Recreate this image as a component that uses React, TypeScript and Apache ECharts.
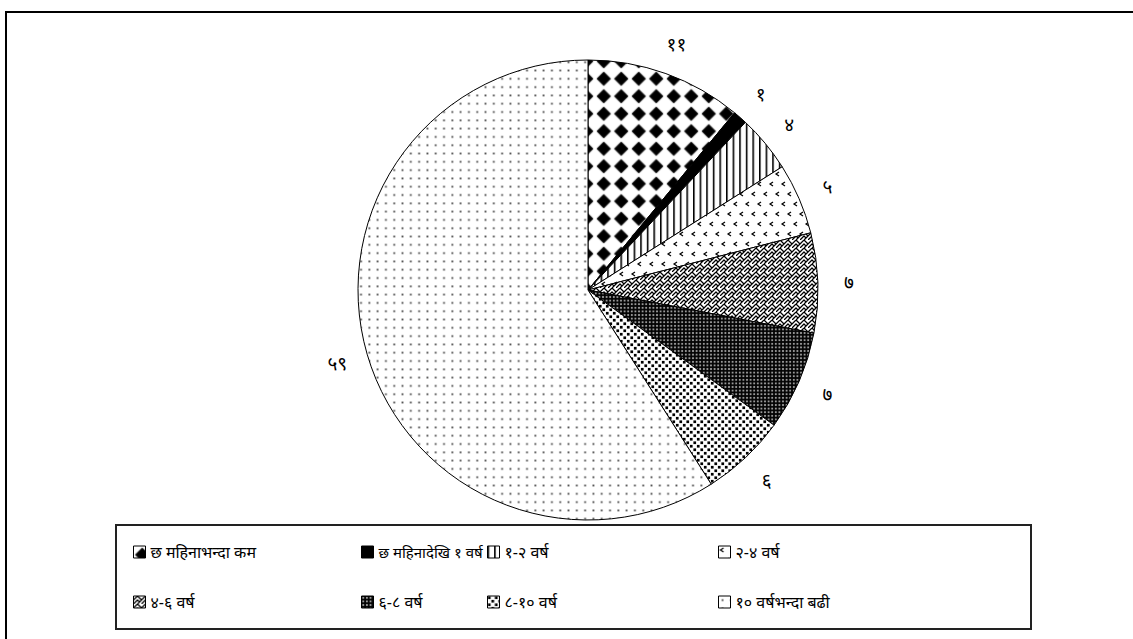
import React, { useEffect, useRef } from "react";
import * as echarts from "echarts";

const categories = [
  "छ महिनाभन्दा कम",
  "छ महिनादेखि १ वर्ष",
  "१-२ वर्ष",
  "२-४ वर्ष",
  "४-६ वर्ष",
  "६-८ वर्ष",
  "८-१० वर्ष",
  "१० वर्षभन्दा बढी",
];
const values = [11, 1, 4, 5, 7, 7, 6, 59];
const valueLabels = ["११", "१", "४", "५", "७", "७", "६", "५९"];

const FONT = "'Noto Sans', 'Noto Sans Devanagari', 'Lohit Devanagari', sans-serif";

function makePattern(w: number, h: number, draw: (ctx: CanvasRenderingContext2D) => void) {
  const S = 4;
  const c = document.createElement("canvas");
  c.width = Math.round(w * S);
  c.height = Math.round(h * S);
  const ctx = c.getContext("2d") as CanvasRenderingContext2D;
  ctx.scale(S, S);
  draw(ctx);
  return { image: c, repeat: "repeat", imageWidth: w, imageHeight: h } as any;
}

function buildPatterns() {
  const diamonds = makePattern(17.5, 17.5, (ctx) => {
    ctx.fillStyle = "#fff";
    ctx.fillRect(0, 0, 17.5, 17.5);
    ctx.fillStyle = "#000";
    ctx.beginPath();
    ctx.moveTo(8.75, 1.6);
    ctx.lineTo(15.9, 8.75);
    ctx.lineTo(8.75, 15.9);
    ctx.lineTo(1.6, 8.75);
    ctx.closePath();
    ctx.fill();
  });
  const solid = "#000";
  const vlines = makePattern(6.6, 6.6, (ctx) => {
    ctx.fillStyle = "#fff";
    ctx.fillRect(0, 0, 6.6, 6.6);
    ctx.fillStyle = "#000";
    ctx.fillRect(0, 0, 1.6, 6.6);
  });
  const chevrons = makePattern(12, 20, (ctx) => {
    ctx.fillStyle = "#fff";
    ctx.fillRect(0, 0, 12, 20);
    ctx.strokeStyle = "#000";
    ctx.lineWidth = 1.2;
    const mark = (x: number, y: number) => {
      ctx.beginPath();
      ctx.moveTo(x + 3, y);
      ctx.lineTo(x, y + 2);
      ctx.lineTo(x + 3, y + 4);
      ctx.stroke();
    };
    mark(2, 2);
    mark(8, 12);
  });
  const weave = makePattern(8, 8, (ctx) => {
    ctx.fillStyle = "#fff";
    ctx.fillRect(0, 0, 8, 8);
    ctx.strokeStyle = "#000";
    ctx.lineWidth = 1.3;
    ctx.beginPath();
    ctx.moveTo(-1, 5);
    ctx.lineTo(4, 0);
    ctx.lineTo(9, 5);
    ctx.moveTo(-1, 9);
    ctx.lineTo(4, 4);
    ctx.lineTo(6, 6);
    ctx.moveTo(4, 8);
    ctx.lineTo(9, 3);
    ctx.stroke();
  });
  const darkGrid = makePattern(3.6, 3.6, (ctx) => {
    ctx.fillStyle = "#000";
    ctx.fillRect(0, 0, 3.6, 3.6);
    ctx.fillStyle = "#fff";
    ctx.fillRect(1.1, 1.1, 1.3, 1.3);
  });
  const dots6 = makePattern(7, 7, (ctx) => {
    ctx.fillStyle = "#fff";
    ctx.fillRect(0, 0, 7, 7);
    ctx.fillStyle = "#000";
    ctx.fillRect(0.4, 0.4, 2.7, 2.7);
    ctx.fillRect(3.9, 3.9, 2.7, 2.7);
  });
  const dots59 = makePattern(8.3, 8.3, (ctx) => {
    ctx.fillStyle = "#fff";
    ctx.fillRect(0, 0, 8.3, 8.3);
    ctx.fillStyle = "#333";
    ctx.fillRect(3.3, 3.3, 1.6, 1.6);
  });
  return [diamonds, solid, vlines, chevrons, weave, darkGrid, dots6, dots59];
}

export default function App() {
  const ref = useRef<HTMLDivElement>(null);
  useEffect(() => {
    if (!ref.current) return;
    const chart = echarts.init(ref.current, undefined, { renderer: "svg" });
    const patterns = buildPatterns();
    const pieData = categories.map((name, i) => ({
      name,
      value: values[i],
      itemStyle: { color: patterns[i] },
    }));
    const labelData = categories.map((name, i) => ({
      name,
      value: values[i],
      label: { formatter: valueLabels[i] },
    }));
    const colLefts = [128, 356, 482, 713];
    const legends = colLefts.map((left, c) => ({
      orient: "vertical",
      left,
      top: 538,
      itemWidth: 12,
      itemHeight: 12,
      itemGap: 32,
      icon: "rect",
      selectedMode: false,
      data: [categories[c], categories[c + 4]].map((name) =>
        name === categories[1] ? { name, textStyle: { fontSize: 15 } } : { name }
      ),
      itemStyle: { borderColor: "#000", borderWidth: 1 },
      textStyle: { color: "#000", fontSize: 16, lineHeight: 18, fontFamily: FONT },
    }));
    chart.setOption({
      animation: false,
      backgroundColor: "#fff",
      legend: legends,
      graphic: [
        {
          type: "rect",
          shape: { x: 6, y: 12, width: 1150, height: 650 },
          style: { fill: "none", stroke: "#000", lineWidth: 2 },
          silent: true,
        },
        {
          type: "rect",
          shape: { x: 116, y: 525, width: 915, height: 104 },
          style: { fill: "none", stroke: "#222", lineWidth: 2 },
          silent: true,
        },
      ],
      series: [
        {
          type: "pie",
          center: [588, 290],
          radius: 230,
          startAngle: 90,
          clockwise: true,
          silent: true,
          label: { show: false },
          labelLine: { show: false },
          itemStyle: { borderColor: "#000", borderWidth: 1 },
          data: pieData,
        },
        {
          type: "pie",
          center: [588, 290],
          radius: [246, 270],
          startAngle: 90,
          clockwise: true,
          silent: true,
          itemStyle: { color: "rgba(0,0,0,0)", borderWidth: 0 },
          label: {
            show: true,
            position: "inside",
            color: "#000",
            fontSize: 19,
            fontFamily: FONT,
          },
          labelLine: { show: false },
          data: labelData,
        },
      ],
    });
    return () => chart.dispose();
  }, []);
  return (
    <div
      ref={ref}
      style={{ position: "fixed", left: 0, top: 0, width: 1133, height: 639 }}
    />
  );
}
